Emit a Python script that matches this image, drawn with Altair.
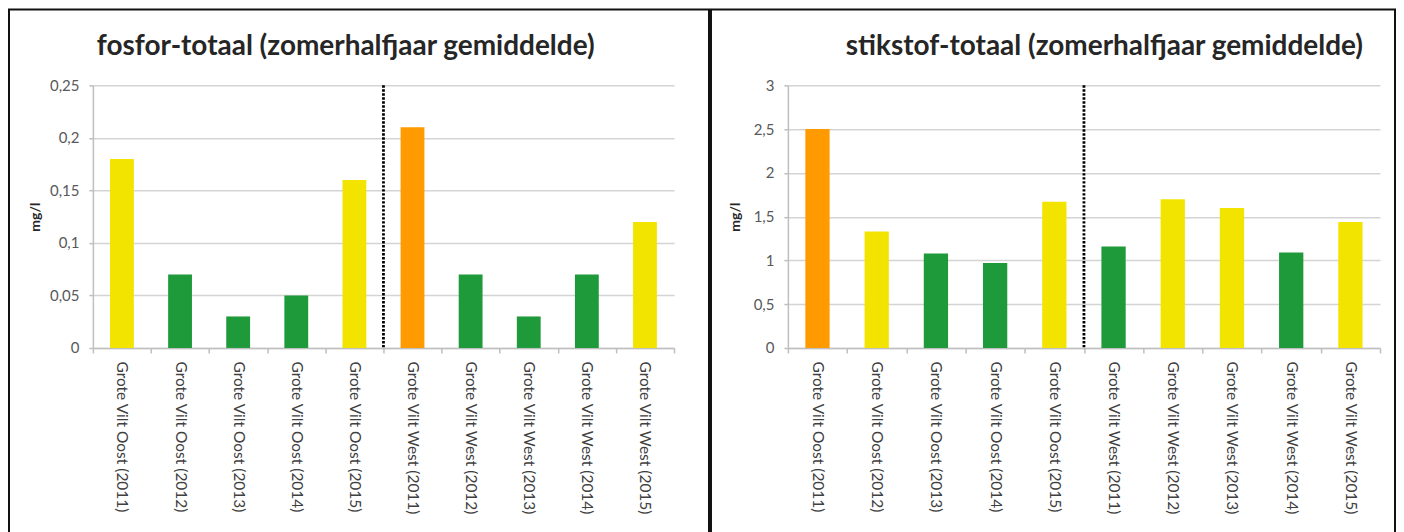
import altair as alt
import pandas as pd

categories = [
    "Grote Vilt Oost (2011)", "Grote Vilt Oost (2012)", "Grote Vilt Oost (2013)",
    "Grote Vilt Oost (2014)", "Grote Vilt Oost (2015)", "Grote Vilt West (2011)",
    "Grote Vilt West (2012)", "Grote Vilt West (2013)", "Grote Vilt West (2014)",
    "Grote Vilt West (2015)",
]
divider_category = "Grote Vilt West (2011)"

fosfor_values = [0.18, 0.07, 0.03, 0.05, 0.16, 0.21, 0.07, 0.03, 0.07, 0.12]
fosfor_class = ["geel", "groen", "groen", "groen", "geel", "oranje", "groen", "groen", "groen", "geel"]
fosfor_ticks = [0, 0.05, 0.1, 0.15, 0.2, 0.25]

stikstof_values = [2.5, 1.33, 1.08, 0.97, 1.67, 1.16, 1.70, 1.60, 1.09, 1.44]
stikstof_class = ["oranje", "geel", "groen", "groen", "geel", "groen", "geel", "geel", "groen", "geel"]
stikstof_ticks = [0, 0.5, 1, 1.5, 2, 2.5, 3]

class_names = ["geel", "groen", "oranje"]
class_colors = ["#F3E400", "#1E9A3A", "#FF9A00"]

FONT = "Lato"
H = 263


def panel(values, classes, ticks, title, width, title_dx, ytitle_x, frame_x, frame_x2):
    df = pd.DataFrame({"cat": categories, "val": values, "cls": classes})
    xscale = alt.Scale(domain=categories, paddingInner=0, paddingOuter=0)
    yscale = alt.Scale(domain=[ticks[0], ticks[-1]], nice=False)

    bars = alt.Chart(df).mark_bar(width=alt.RelativeBandSize(0.41)).encode(
        x=alt.X("cat:N", scale=xscale, sort=categories, title=None,
                axis=alt.Axis(labelAngle=90, labelFontSize=15.5, labelColor="#404040",
                              labelFont=FONT, tickBand="extent", domainColor="#BFBFBF",
                              domainWidth=1.5, tickColor="#BFBFBF", tickSize=5, tickWidth=1.5,
                              labelPadding=8, grid=False)),
        y=alt.Y("val:Q", scale=yscale,
                axis=alt.Axis(values=ticks,
                              labelExpr="replace(format(datum.value, '~g'), '.', ',')",
                              grid=True, gridColor="#D4D4D4", gridWidth=1.5,
                              domainColor="#BFBFBF", domainWidth=1.5, tickColor="#BFBFBF",
                              tickSize=4, tickWidth=1.5, labelPadding=10, labelColor="#595959",
                              labelFontSize=15, labelFont=FONT, title="mg/l",
                              titleFont=FONT, titleFontSize=14, titleFontWeight="bold",
                              titleColor="#262626", titleX=ytitle_x, titleY=H / 2,
                              titleAngle=270, titleAlign="center", titleBaseline="middle")),
        color=alt.Color("cls:N", scale=alt.Scale(domain=class_names, range=class_colors),
                        legend=None),
    )

    rule_df = pd.DataFrame({"cat": [divider_category]})
    divider = alt.Chart(rule_df).mark_rule(color="black", strokeWidth=2.8,
                                           strokeDash=[2.4, 1.6]).encode(
        x=alt.X("cat:N", scale=xscale, sort=categories, bandPosition=0),
        y=alt.value(0),
        y2=alt.value(H),
    )

    frame_df = pd.DataFrame({"f": [0]})
    frame = alt.Chart(frame_df).mark_rect(filled=False, stroke="#111111", strokeWidth=2).encode(
        x=alt.value(frame_x), x2=alt.value(frame_x2), y=alt.value(-76), y2=alt.value(560),
    )

    return alt.layer(frame, bars, divider).properties(
        width=width, height=H,
        title=alt.TitleParams(title, anchor="start", frame="group", dx=title_dx,
                              fontSize=28, font=FONT, fontWeight="bold", color="#262626",
                              baseline="alphabetic", offset=-75),
    )


left = panel(fosfor_values, fosfor_class, fosfor_ticks,
             "fosfor-totaal (zomerhalfjaar gemiddelde)", 582, 4, -57, -84, 617)
right = panel(stikstof_values, stikstof_class, stikstof_ticks,
              "stikstof-totaal (zomerhalfjaar gemiddelde)", 593, 58, -52, -77, 608)

chart = alt.hconcat(left, right, spacing=0).properties(padding=0).configure_view(stroke=None)

chart.save("out.html", embed_options={"renderer": "svg", "actions": False})
